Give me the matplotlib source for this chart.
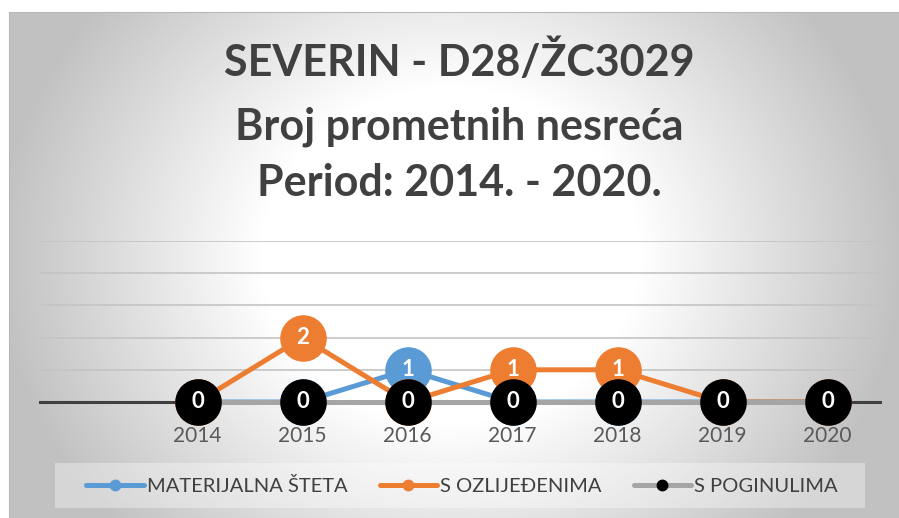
import numpy as np
import matplotlib
matplotlib.use('Agg')
import matplotlib.pyplot as plt
from matplotlib.lines import Line2D
from matplotlib.patches import Rectangle

plt.rcParams['font.family'] = ['Lato', 'DejaVu Sans']

# podaci
godine = ['2014', '2015', '2016', '2017', '2018', '2019', '2020']
materijalna_steta = [0, 0, 1, 0, 0, 0, 0]
s_ozlijedenima = [0, 2, 0, 1, 1, 0, 0]
s_poginulima = [0, 0, 0, 0, 0, 0, 0]
naslov = ['SEVERIN - D28/ŽC3029', 'Broj prometnih nesreća', 'Period: 2014. - 2020.']
nazivi = ['MATERIJALNA ŠTETA', 'S OZLIJEĐENIMA', 'S POGINULIMA']

W, H = 899, 518
fig = plt.figure(figsize=(W / 100, H / 100), dpi=100)

# pozadina - radijalni gradijent
bg = fig.add_axes([0, 0, 1, 1], zorder=-10)
bg.set_axis_off()
xx, yy = np.meshgrid(np.arange(W), np.arange(H))
r = np.sqrt(((xx - 450) / 450.0) ** 2 + ((yy - 255) / 400.0) ** 2)
c = 1 - 0.24 * np.clip((r - 0.42) / 0.58, 0, 1)
img = np.dstack([c, c, c])
img[:12, :, :] = 1.0
img[:, :9, :] = 1.0
bg.imshow(img, extent=[0, W, H, 0], aspect='auto', interpolation='bilinear')
bg.plot([9, W], [12, 12], color='#b8b8b8', lw=0.8)
bg.plot([9, 9], [12, H], color='#b8b8b8', lw=0.8)
bg.set_xlim(0, W)
bg.set_ylim(H, 0)

# okvir legende
fig.patches.append(Rectangle((55 / W, 1 - 508 / H), 810 / W, 45 / H,
                             transform=fig.transFigure, facecolor='white',
                             alpha=0.35, edgecolor='none', zorder=-5))

ax = fig.add_axes([40 / W, 1 - 402 / H, 840 / W, 161 / H])
ax.patch.set_alpha(0)
x = np.arange(len(godine))

boje = ['#5b9bd5', '#ed7d31', '#a5a5a5']
serije = [materijalna_steta, s_ozlijedenima, s_poginulima]
marker_boje = ['#5b9bd5', '#ed7d31', '#000000']

for i, (vals, b, mb) in enumerate(zip(serije, boje, marker_boje)):
    z = 3 + i * 2
    ax.plot(x, vals, color=b, lw=3.6, zorder=z, clip_on=False,
            solid_capstyle='butt')
    ax.plot(x, vals, 'o', color=mb, ms=32.5, mec=mb, zorder=z, clip_on=False)
    for xi, v in zip(x, vals):
        ax.text(xi, v, str(v), color='white', fontsize=16, fontweight='bold',
                ha='center', va='center', zorder=z + 0.5, clip_on=False)

ax.set_xlim(-1.5, 6.5)
ax.set_ylim(0, 5)
ax.set_yticks([1, 2, 3, 4, 5])
ax.grid(axis='y', color='#c4c4c4', lw=1.2)
ax.tick_params(axis='y', left=False, labelleft=False)
ax.set_xticks(x)
ax.set_xticklabels(godine)
ax.tick_params(axis='x', length=0, pad=17, labelsize=15, labelcolor='#595959')
for s in ['top', 'left', 'right']:
    ax.spines[s].set_visible(False)
ax.spines['bottom'].set_color('#404040')
ax.spines['bottom'].set_linewidth(2.2)
ax.spines['bottom'].set_zorder(1)

# naslov
for tekst, yc in zip(naslov, [62, 127, 183]):
    fig.text(459 / W, 1 - yc / H, tekst, ha='center', va='center',
             fontsize=31, fontweight='bold', color='#404040')

# legenda
ruke = [Line2D([], [], color=b, lw=3.6, marker='o', ms=7.5, mfc=mb, mec=mb,
               solid_capstyle='round') for b, mb in zip(boje, marker_boje)]
fig.legend(ruke, nazivi, loc='center', bbox_to_anchor=(462 / W, 1 - 486 / H),
           ncol=3, frameon=False, fontsize=14.5, handlelength=2.85,
           handletextpad=0.15, columnspacing=1.6, labelcolor='#404040')

fig.savefig('out.png', dpi=100)
